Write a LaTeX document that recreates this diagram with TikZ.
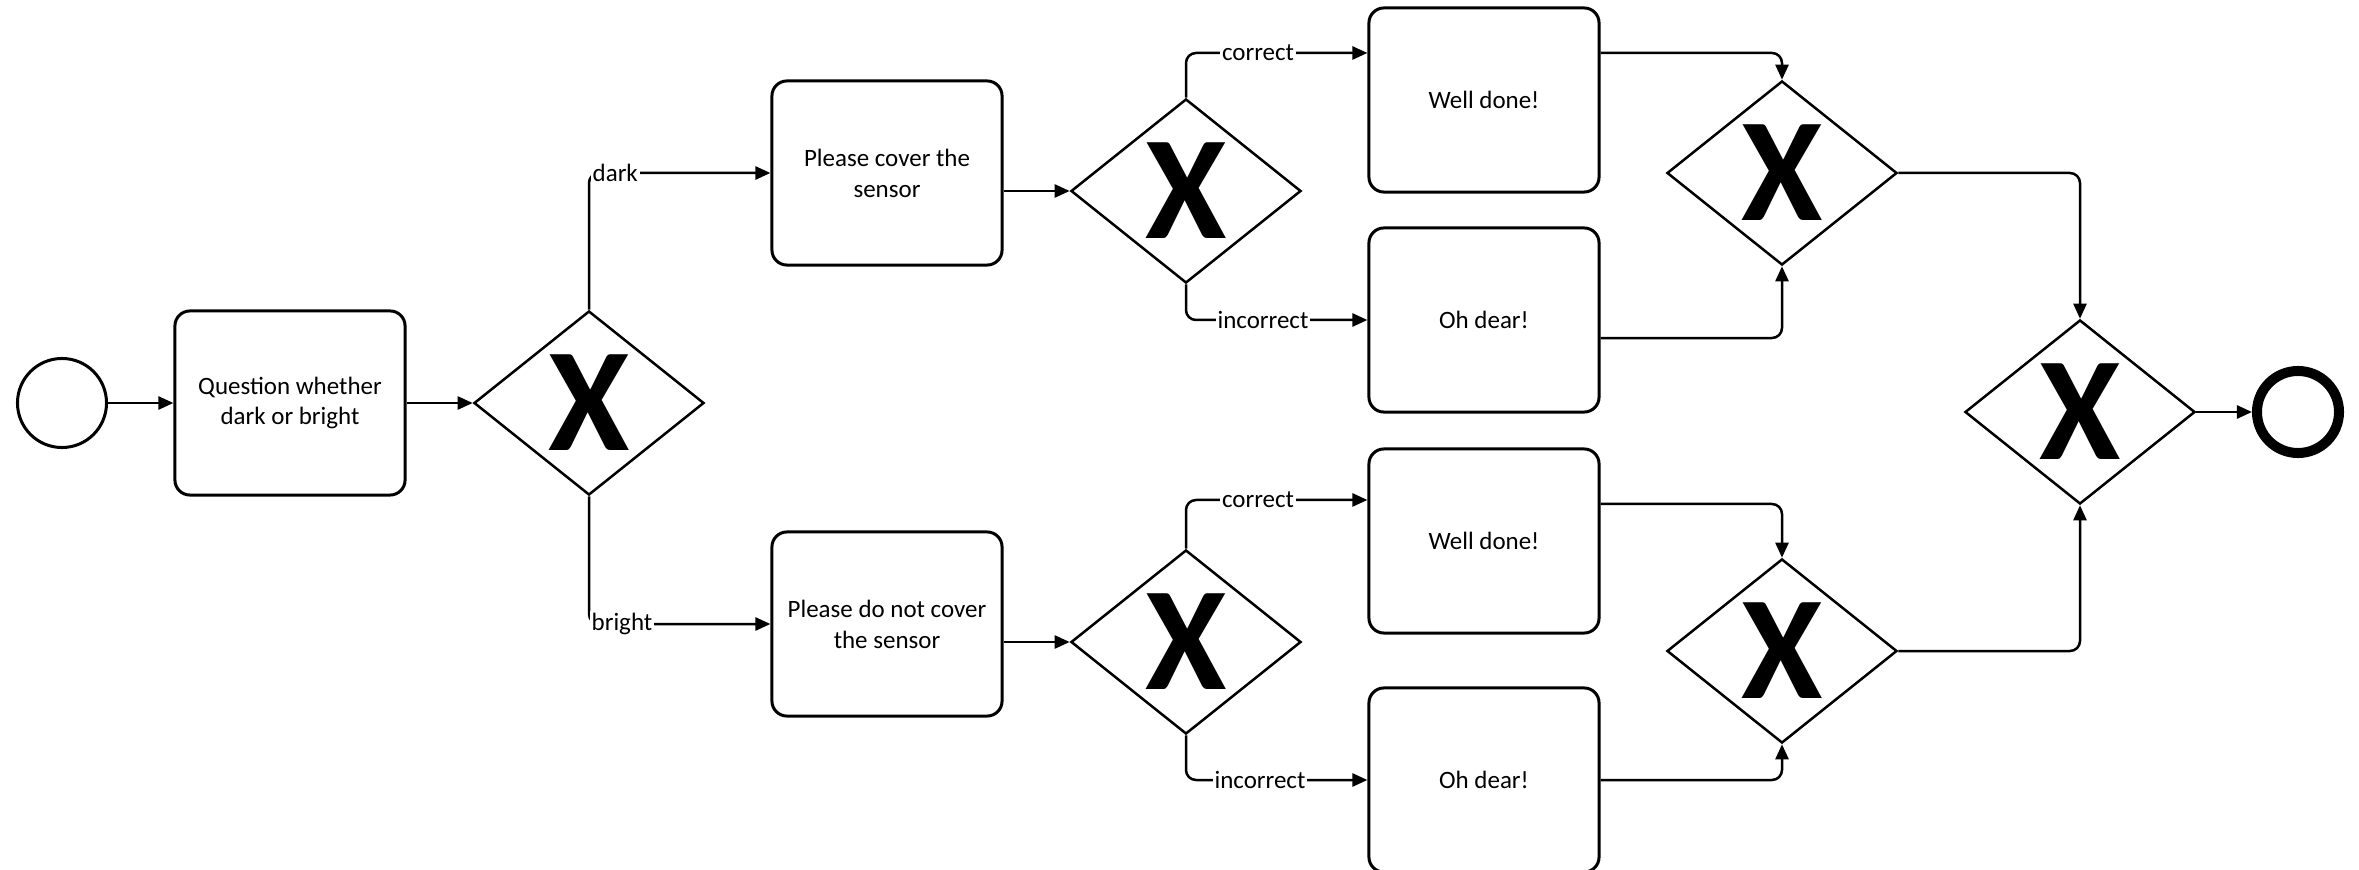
\documentclass[tikz,border=0pt]{standalone}
\usepackage{fontspec}
\setmainfont{Carlito}
\usetikzlibrary{shapes.geometric,arrows.meta}
\begin{document}
\begin{tikzpicture}[x=0.01cm,y=-0.01cm,
  task/.style={draw, rounded corners=0.15cm, line width=0.03cm, minimum width=2.3cm,
    minimum height=1.84cm, align=center, inner sep=0, font=\fontsize{7.1}{8.8}\selectfont},
  gate/.style={draw, diamond, line width=0.025cm, minimum width=2.3cm, minimum height=1.84cm, inner sep=0},
  xmark/.style={font=\fontsize{42}{42}\selectfont\bfseries, inner sep=0},
  startev/.style={draw, circle, line width=0.03cm, minimum size=0.89cm, inner sep=0},
  endev/.style={draw, circle, line width=0.1cm, minimum size=0.82cm, inner sep=0},
  flow/.style={line width=0.025cm, rounded corners=0.1cm, -{Triangle[length=0.15cm,width=0.13cm]}},
  lbl/.style={fill=white, inner sep=0.02cm, font=\fontsize{7.1}{8.8}\selectfont},
]
\useasboundingbox (0,0) rectangle (2359,870);

% events, tasks and gateways
\node[startev] (start) at (62,403) {};
\node[task] (q) at (290,403) {Question whether\\dark or bright};
\node[gate] (g1) at (589,403) {};
\node[xmark] (g1x) at (g1) {X};
\node[task] (c1) at (887,173) {Please cover the\\sensor};
\node[task] (c2) at (887,624) {Please do not cover\\the sensor};
\node[gate] (g2) at (1186,191) {};
\node[xmark] (g2x) at (g2) {X};
\node[gate] (g4) at (1186,642) {};
\node[xmark] (g4x) at (g4) {X};
\node[task] (w1) at (1484,100) {Well done!};
\node[task] (o1) at (1484,320) {Oh dear!};
\node[task] (w2) at (1484,541) {Well done!};
\node[task] (o2) at (1484,780) {Oh dear!};
\node[gate] (g3) at (1782,173) {};
\node[xmark] (g3x) at (g3) {X};
\node[gate] (g5) at (1782,651) {};
\node[xmark] (g5x) at (g5) {X};
\node[gate] (gf) at (2080,412) {};
\node[xmark] (gfx) at (gf) {X};
\node[endev] (end) at (2298,412) {};

% sequence flows
\draw[flow] (start) -- (q);
\draw[flow] (q) -- (g1);
\draw[flow] (g1.north) |- (c1.west);
\draw[flow] (g1.south) |- (c2.west);
\draw[flow] (c1.east |- g2.west) -- (g2.west);
\draw[flow] (c2.east |- g4.west) -- (g4.west);
\draw[flow] (g2.north) |- ([yshift=0.47cm]w1.west);
\draw[flow] (g2.south) |- (o1.west);
\draw[flow] (g4.north) |- ([yshift=0.41cm]w2.west);
\draw[flow] (g4.south) |- (o2.west);
\draw[flow] ([yshift=0.47cm]w1.east) -| (g3.north);
\draw[flow] ([yshift=-0.18cm]o1.east) -| (g3.south);
\draw[flow] ([yshift=0.37cm]w2.east) -| (g5.north);
\draw[flow] (o2.east) -| (g5.south);
\draw[flow] (g3.east) -| (gf.north);
\draw[flow] (g5.east) -| (gf.south);
\draw[flow] (gf) -- (end);

% flow labels
\node[lbl, anchor=west] (ldark) at (590,173) {dark};
\node[lbl, anchor=west] (lbright) at (589,624) {bright};
\node[lbl] (lc1) at (1258,53) {correct};
\node[lbl] (li1) at (1263,320) {incorrect};
\node[lbl] (lc2) at (1258,500) {correct};
\node[lbl] (li2) at (1260,780) {incorrect};
\end{tikzpicture}
\end{document}
